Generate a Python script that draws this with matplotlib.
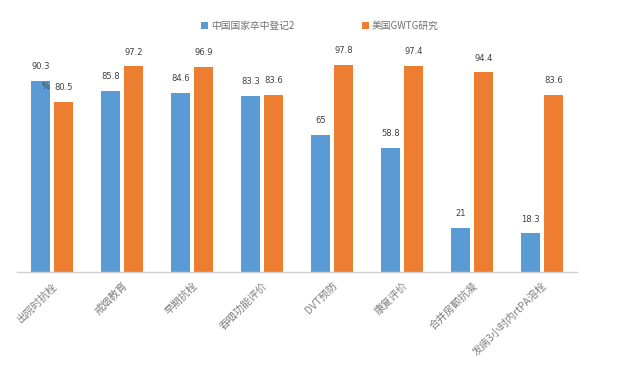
import matplotlib
matplotlib.use("Agg")
import matplotlib.pyplot as plt
import numpy as np

plt.rcParams['font.family'] = ['Noto Sans CJK SC', 'DejaVu Sans']

categories = ["出院时抗栓", "戒烟教育", "早期抗栓", "吞咽功能评价", "DVT预防", "康复评价", "合并房颤抗凝", "发病3小时内rtPA溶栓"]
series_names = ["中国国家卒中登记2", "美国GWTG研究"]
china = [90.3, 85.8, 84.6, 83.3, 65, 58.8, 21, 18.3]
usa = [80.5, 97.2, 96.9, 83.6, 97.8, 97.4, 94.4, 83.6]

blue = "#5B9BD5"
orange = "#ED7D31"

fig = plt.figure(figsize=(6.28, 3.89), dpi=100)
ax = fig.add_axes([17/628, 1-272/389, 560/628, 211.5/389])

x = np.arange(len(categories))
w = 0.27
off = 0.165
b1 = ax.bar(x - off, china, w, color=blue, label=series_names[0])
b2 = ax.bar(x + off, usa, w, color=orange, label=series_names[1])

for bars, vals in ((b1, china), (b2, usa)):
    for b, v in zip(bars, vals):
        ax.annotate(f"{v:g}", (b.get_x() + b.get_width()/2, v), xytext=(0, 7),
                    textcoords="offset points", ha="center", va="bottom",
                    fontsize=6, color="#404040", family="DejaVu Sans")

# stray "%" mark present in the original
ax.text(-0.1, 87.5, "%", fontsize=6, color="#404040", ha="center", va="center", family="DejaVu Sans")

ax.set_xlim(-0.5, len(categories) - 0.5)
ax.set_ylim(0, 100)
ax.set_yticks([])
ax.set_xticks(x)
ax.set_xticklabels(categories, rotation=45, ha="right", rotation_mode="anchor",
                   fontsize=7.5, color="#7F7F7F")
ax.tick_params(axis="x", length=0, pad=6)
for s in ("top", "right", "left"):
    ax.spines[s].set_visible(False)
ax.spines["bottom"].set_color("#D0D0D0")
ax.spines["bottom"].set_linewidth(1)

leg = fig.legend(handles=[b1, b2], labels=series_names, loc="center",
                 bbox_to_anchor=(320/628, 1-26/389), ncol=2, frameon=False,
                 fontsize=7, handlelength=0.7, handleheight=0.7, handletextpad=0.3,
                 columnspacing=7)
for t in leg.get_texts():
    t.set_color("#707070")

fig.savefig("out.png", dpi=100)
